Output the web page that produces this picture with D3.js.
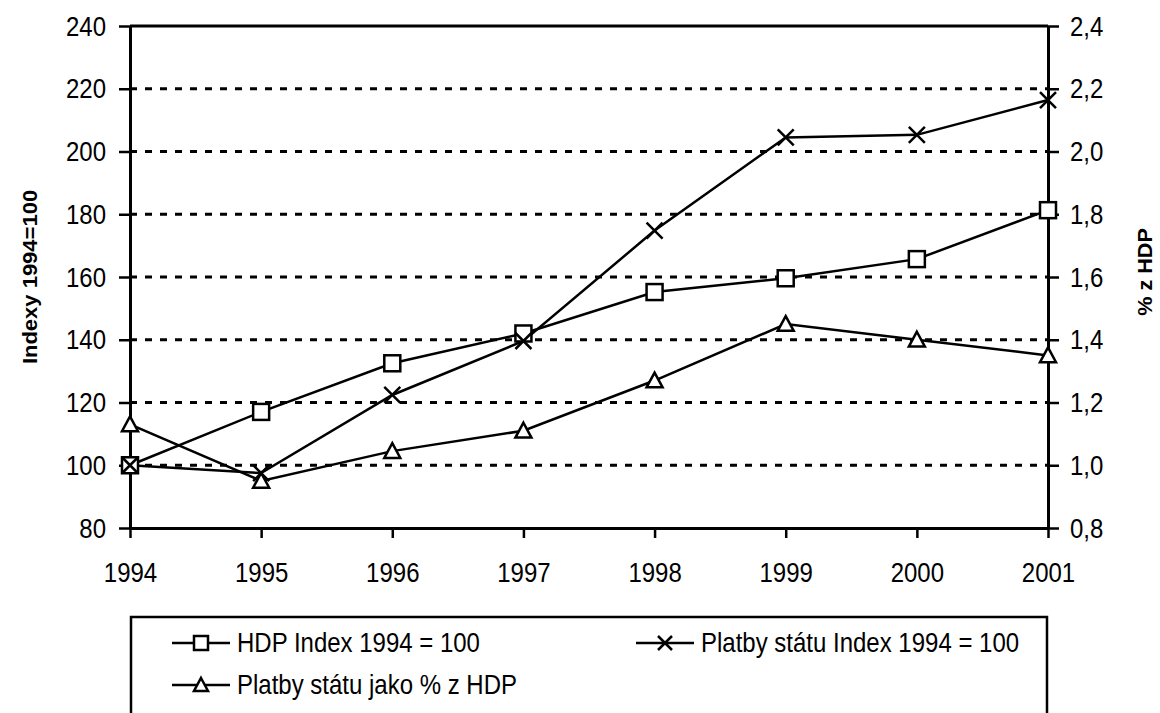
<!DOCTYPE html>
<html>
<head>
<meta charset="utf-8">
<script src="https://cdn.jsdelivr.net/npm/d3@7"></script>
<style>
  body { margin: 0; background: #fff; }
  svg { display: block; font-family: "Liberation Sans", Arial, sans-serif; }
</style>
</head>
<body>
<div id="graph-container"></div>
<script>

// data
var years = [1994, 1995, 1996, 1997, 1998, 1999, 2000, 2001];
var hdp_index = [100, 117, 132.5, 142, 155.2, 159.6, 165.7, 181.3];
var platby_index = [100, 97.5, 122.4, 139.6, 174.8, 204.5, 205.3, 216.4];
var platby_pct = [1.13, 0.95, 1.045, 1.11, 1.27, 1.45, 1.40, 1.35];

var left_ticks = [80, 100, 120, 140, 160, 180, 200, 220, 240];
var right_ticks = [0.8, 1.0, 1.2, 1.4, 1.6, 1.8, 2.0, 2.2, 2.4];

var legend_items = [
    {label: 'HDP Index 1994 = 100', marker: 'square'},
    {label: 'Platby státu Index 1994 = 100', marker: 'cross'},
    {label: 'Platby státu jako % z HDP', marker: 'triangle'}
];

var W = 1160, H = 713;
var plot = {left: 130, right: 1048, top: 26, bottom: 528};
var stretch = 1.12;   // text in the picture is a bit taller than plain Arial

var svg = d3.select('#graph-container').append('svg').attr('width', W).attr('height', H);

var x = d3.scalePoint().domain(years).range([plot.left, plot.right]).padding(0);
var y_left = d3.scaleLinear().domain([80, 240]).range([plot.bottom, plot.top]);
var y_right = d3.scaleLinear().domain([0.8, 2.4]).range([plot.bottom, plot.top]);

var comma = d => d3.format('.1f')(d).replace('.', ',');

// grid lines
var grid = svg.append('g');
grid.selectAll('line').data(left_ticks.filter(d => d > 80))
    .enter().append('line')
    .attr('x1', plot.left).attr('x2', plot.right)
    .attr('y1', d => y_left(d)).attr('y2', d => y_left(d))
    .attr('stroke', '#000').attr('stroke-width', 3)
    .attr('stroke-dasharray', d => d === 240 ? null : '7,8');

// axes
function style_axis(g) {
    g.select('.domain').attr('stroke', '#000').attr('stroke-width', 3);
    g.selectAll('.tick line').attr('stroke', '#000').attr('stroke-width', 2.5);
    g.selectAll('.tick text').attr('fill', '#000').style('font-size', '24px')
        .attr('font-family', '"Liberation Sans", Arial, sans-serif');
}

var ax_left = svg.append('g').attr('transform', `translate(${plot.left},0)`)
    .call(d3.axisLeft(y_left).tickValues(left_ticks).tickSize(11).tickSizeOuter(0).tickPadding(13))
    .call(style_axis);
ax_left.selectAll('.tick text').attr('dy', '0.34em').attr('transform', `scale(1,${stretch})`);

var ax_right = svg.append('g').attr('transform', `translate(${plot.right},0)`)
    .call(d3.axisRight(y_right).tickValues(right_ticks).tickFormat(comma).tickSize(11).tickSizeOuter(0).tickPadding(11))
    .call(style_axis);
ax_right.selectAll('.tick text').attr('dy', '0.34em').attr('transform', `scale(1,${stretch})`);

var ax_bottom = svg.append('g').attr('transform', `translate(0,${plot.bottom})`)
    .call(d3.axisBottom(x).tickSize(10).tickSizeOuter(0))
    .call(style_axis);
ax_bottom.selectAll('.tick text').attr('y', 0).attr('dy', 0)
    .attr('transform', `translate(0,54) scale(1,${stretch})`);

// axis titles
svg.append('text')
    .attr('transform', `translate(37,${(plot.top + plot.bottom) / 2}) rotate(-90) scale(1.1,1)`)
    .attr('text-anchor', 'middle')
    .style('font-size', '20px').style('font-weight', 'bold')
    .text('Indexy 1994=100');

svg.append('text')
    .attr('transform', `translate(1152,272) rotate(-90) scale(1.08,1)`)
    .attr('text-anchor', 'middle')
    .style('font-size', '20px').style('font-weight', 'bold')
    .text('% z HDP');

// markers
function draw_marker(g, type, size) {
    var s = size / 2;
    if (type === 'square') {
        g.append('rect').attr('x', -s).attr('y', -s).attr('width', size).attr('height', size)
            .attr('fill', '#fff').attr('stroke', '#000').attr('stroke-width', 2.5);
    } else if (type === 'triangle') {
        g.append('path').attr('d', `M0,${-s}L${s},${s * 0.85}L${-s},${s * 0.85}Z`)
            .attr('fill', '#fff').attr('stroke', '#000').attr('stroke-width', 2.5);
    } else {
        g.append('path').attr('d', `M${-s},${-s}L${s},${s}M${s},${-s}L${-s},${s}`)
            .attr('fill', 'none').attr('stroke', '#000').attr('stroke-width', 2.5);
    }
}

var series = [
    {values: hdp_index, y: y_left, marker: 'square'},
    {values: platby_index, y: y_left, marker: 'cross'},
    {values: platby_pct, y: y_right, marker: 'triangle'}
];

var line_layer = svg.append('g');
var marker_layer = svg.append('g');

series.forEach(s => {
    var pts = years.map((yr, i) => [x(yr), s.y(s.values[i])]);
    line_layer.append('path')
        .attr('d', d3.line()(pts))
        .attr('fill', 'none').attr('stroke', '#000').attr('stroke-width', 2.5);
    pts.forEach(p => {
        var m = marker_layer.append('g').attr('transform', `translate(${p[0]},${p[1]})`);
        draw_marker(m, s.marker, 16);
    });
});

// legend
var legend = svg.append('g');
legend.append('path')
    .attr('d', `M131,${H + 5}V617H1047V${H + 5}`)
    .attr('fill', 'none').attr('stroke', '#000').attr('stroke-width', 2.5);

var legend_pos = [[201, 643], [665, 643], [201, 685]];
legend_items.forEach((item, i) => {
    var p = legend_pos[i];
    var g = legend.append('g').attr('transform', `translate(${p[0]},${p[1]})`);
    g.append('line').attr('x1', -29).attr('x2', 29).attr('stroke', '#000').attr('stroke-width', 2.5);
    draw_marker(g, item.marker, 14);
    g.append('text')
        .attr('transform', `translate(36,0) scale(1,${stretch})`)
        .attr('dy', '0.35em')
        .style('font-size', '24px')
        .text(item.label);
});

</script>
</body>
</html>
